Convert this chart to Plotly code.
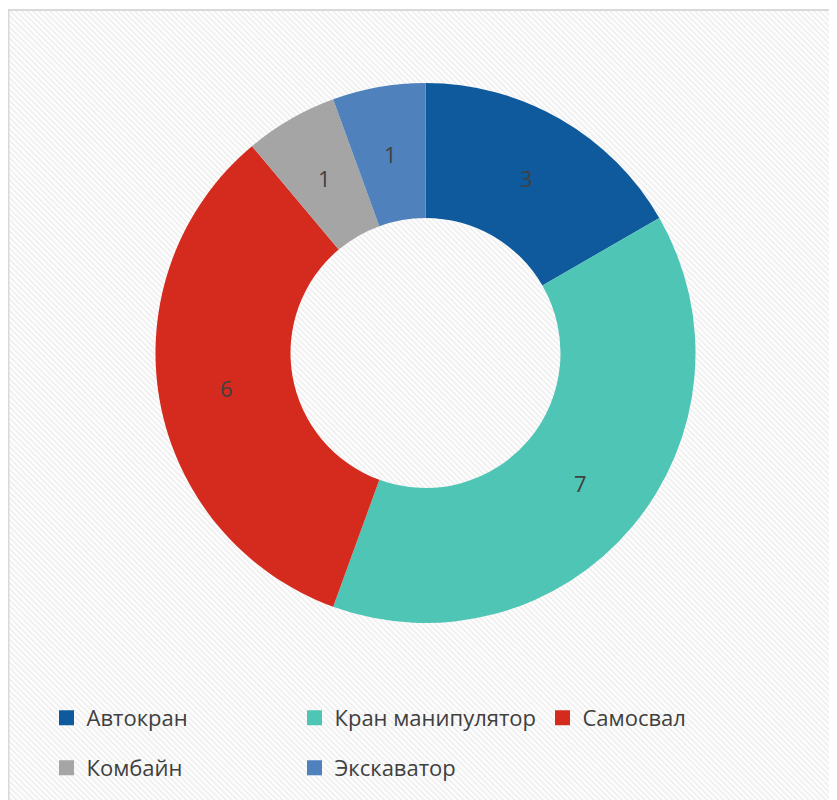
import base64
import math
import plotly.graph_objects as go

labels = ["Автокран", "Кран манипулятор", "Самосвал", "Комбайн", "Экскаватор"]
values = [3, 7, 6, 1, 1]
colors = ["#0e5a9d", "#4fc5b6", "#d52b1e", "#a5a5a5", "#4f81bd"]

# page body has an 8px margin, so figure coordinates are screen minus 8
OFF = 8
W, H = 837 - OFF, 800 - OFF
FONT = "Open Sans"
TXT = "#404040"
HOLE = 0.5

fig = go.Figure()

cx, cy, R = 425.5 - OFF, 353 - OFF, 270
fig.add_trace(go.Pie(
    labels=labels, values=values, sort=False, direction="clockwise", rotation=0,
    hole=HOLE, marker=dict(colors=colors, line=dict(width=0)),
    textinfo="none",
    domain=dict(x=[(cx - R) / W, (cx + R) / W], y=[(H - cy - R) / H, (H - cy + R) / H]),
    showlegend=False, hoverinfo="label+value",
))

# value labels at the middle of the ring, on each slice's bisector (Excel style)
total = sum(values)
rmid = R * (1 + HOLE) / 2
cum = 0
annotations = []
for v in values:
    ang = 2 * math.pi * (cum + v / 2) / total
    cum += v
    annotations.append(dict(
        x=(cx + rmid * math.sin(ang)) / W, y=(H - (cy - rmid * math.cos(ang))) / H,
        xref="paper", yref="paper", text=str(v), showarrow=False,
        xanchor="center", yanchor="middle",
        font=dict(family=FONT, size=22, color=TXT),
    ))

for i, (lab, col) in enumerate(zip(labels, colors)):
    fig.add_trace(go.Scatter(
        x=[None], y=[None], mode="markers", name=lab,
        marker=dict(symbol="square", size=15, color=col),
        legend="legend" if i < 3 else "legend2",
    ))

svg = ('<svg xmlns="http://www.w3.org/2000/svg" width="829" height="790">'
       '<defs><pattern id="p" width="4" height="4" patternUnits="userSpaceOnUse" '
       'patternTransform="rotate(-45)"><rect width="2" height="4" fill="#f0f0f0"/></pattern></defs>'
       '<rect width="100%" height="100%" fill="#ffffff"/>'
       '<rect width="100%" height="100%" fill="url(#p)"/></svg>')
uri = "data:image/svg+xml;base64," + base64.b64encode(svg.encode()).decode()

leg_common = dict(orientation="h", xanchor="left", yanchor="middle",
                  font=dict(family=FONT, size=22, color=TXT),
                  bgcolor="rgba(0,0,0,0)", entrywidth=203, entrywidthmode="pixels",
                  itemclick=False)

lx = 46.5 - OFF
fig.update_layout(
    width=W, height=H, margin=dict(l=0, r=0, t=0, b=0),
    paper_bgcolor="white", plot_bgcolor="rgba(0,0,0,0)",
    xaxis=dict(visible=False), yaxis=dict(visible=False),
    legend=dict(x=lx / W, y=(H - (718 - OFF)) / H, **leg_common),
    legend2=dict(x=lx / W, y=(H - (768 - OFF)) / H, **leg_common),
    annotations=annotations,
    images=[dict(source=uri, xref="paper", yref="paper", x=0, y=1 - 2 / H,
                 sizex=1, sizey=1, xanchor="left", yanchor="top",
                 sizing="stretch", layer="below")],
    shapes=[dict(type="rect", xref="paper", yref="paper", x0=0.5 / W, x1=1.02,
                 y0=-0.02, y1=1 - 2 / H, line=dict(color="#d9d9d9", width=2),
                 fillcolor="rgba(0,0,0,0)", layer="above")],
)

fig.write_html("out.html")
